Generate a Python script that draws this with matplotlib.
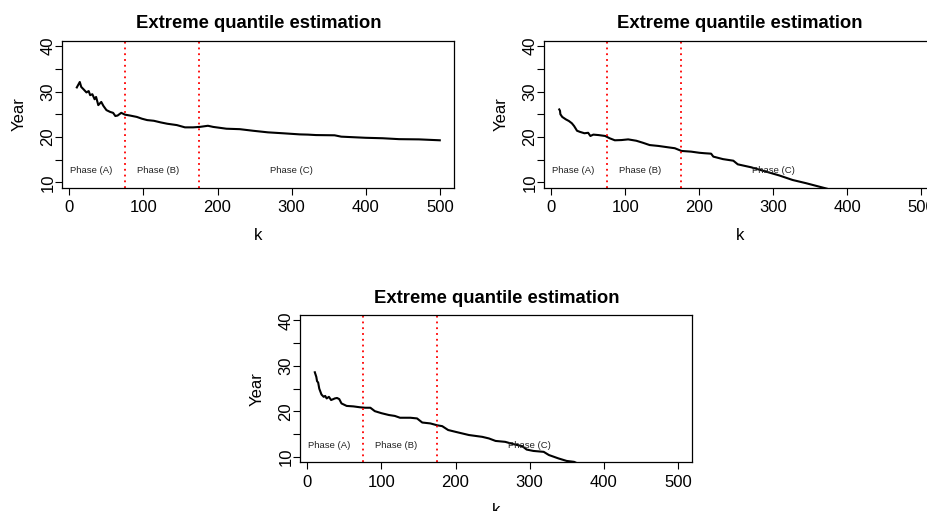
import numpy as np
import matplotlib.pyplot as plt

plt.rcParams['font.family'] = ['Liberation Sans', 'DejaVu Sans']

# curve values
k1 = [10, 14, 16, 19, 23, 26, 28, 31, 34, 36, 39, 43, 46, 50, 55, 59, 62, 65, 70, 75, 82, 91, 98,
      105, 114, 123, 132, 145, 156, 167, 176, 187, 194, 212, 230, 248, 268, 288, 311, 322, 333,
      358, 367, 400, 423, 445, 472, 500]
y1 = [30.9, 32.1, 31.0, 30.5, 29.8, 30.1, 29.2, 29.4, 28.3, 28.8, 27.0, 27.7, 26.8, 25.9, 25.5,
      25.3, 24.6, 24.7, 25.3, 24.9, 24.7, 24.4, 24.0, 23.7, 23.55, 23.2, 22.9, 22.6, 22.1, 22.1,
      22.2, 22.45, 22.2, 21.8, 21.7, 21.35, 21.0, 20.8, 20.55, 20.5, 20.4, 20.35, 20.05, 19.8,
      19.7, 19.5, 19.45, 19.25]

k2 = [11, 12, 12.5, 15, 20, 24, 28, 31, 35, 39, 45, 50, 53, 57, 64, 73, 79, 86, 95, 104, 115,
      124, 133, 145, 158, 167, 176, 189, 200, 207, 216, 219, 232, 246, 252, 270, 290, 308, 326,
      344, 358, 372]
y2 = [26.05, 25.75, 25.0, 24.4, 23.85, 23.5, 23.0, 22.4, 21.35, 21.1, 20.8, 20.9, 20.2, 20.5,
      20.4, 20.2, 19.7, 19.25, 19.3, 19.45, 19.15, 18.7, 18.2, 18.0, 17.7, 17.5, 16.9, 16.75,
      16.5, 16.4, 16.3, 15.65, 15.1, 14.75, 13.95, 13.3, 12.35, 11.5, 10.5, 9.8, 9.2, 8.6]

k3 = [10, 12, 13, 14.5, 16, 19, 22, 24, 26, 29, 32, 35, 37, 40, 43, 46, 53, 62, 71, 78, 85, 91,
      100, 110, 118, 125, 139, 148, 155, 166, 175, 182, 190, 200, 218, 236, 245, 254, 267, 278,
      290, 296, 305, 319, 326, 339, 350, 360, 364]
y3 = [28.6, 27.6, 26.65, 26.35, 25.0, 23.7, 23.2, 23.4, 22.85, 23.2, 22.5, 22.7, 22.85, 22.95,
      22.7, 21.75, 21.2, 21.1, 20.9, 20.8, 20.8, 20.05, 19.6, 19.2, 19.0, 18.6, 18.6, 18.45,
      17.55, 17.35, 16.95, 16.75, 15.9, 15.5, 14.8, 14.4, 14.05, 13.5, 13.3, 12.8, 12.35, 11.6,
      11.3, 11.1, 10.4, 9.65, 9.1, 8.9, 8.6]

phase_pos = [30, 120, 300]
phase_labels = ["Phase (A)", "Phase (B)", "Phase (C)"]
cuts = [75, 175]

fig = plt.figure(figsize=(9.28, 5.11), dpi=100)
W, H = 928, 511


def make_axes(left, top, right, bottom):
    return fig.add_axes([left / W, 1 - bottom / H, (right - left) / W, (bottom - top) / H])


panels = [
    (make_axes(62.3, 40.7, 454.3, 187.7), k1, y1),
    (make_axes(544, 40.7, 936, 187.7), k2, y2),
    (make_axes(300.3, 315, 692.3, 462.3), k3, y3),
]

for ax, k, y in panels:
    ax.plot(k, y, color='black', lw=1.5)
    for c in cuts:
        ax.axvline(c, color='red', lw=1.3, linestyle=(0, (1, 2.2)))
    for xp, lab in zip(phase_pos, phase_labels):
        ax.text(xp, 12.5, lab, fontsize=6.8, ha='center', va='center', color='#222222')
    ax.set_xlim(-9.6, 519.6)
    ax.set_ylim(8.8, 41.2)
    ax.set_xticks(np.arange(0, 501, 100))
    ax.set_yticks(np.arange(10, 41, 5))
    ax.set_yticklabels(['10', '', '20', '', '30', '', '40'], rotation=90, va='center')
    ax.tick_params(axis='both', labelsize=12, length=6.7 * 0.72, width=0.8, pad=4)
    ax.tick_params(axis='y', pad=0)
    for sp in ax.spines.values():
        sp.set_linewidth(0.9)
    ax.set_xlabel('k', fontsize=12, labelpad=9.5)
    ax.set_ylabel('Year', fontsize=12, labelpad=10)
    ax.set_title('Extreme quantile estimation', fontsize=13.3, fontweight='bold', pad=9)

fig.savefig('out.png', dpi=100)
